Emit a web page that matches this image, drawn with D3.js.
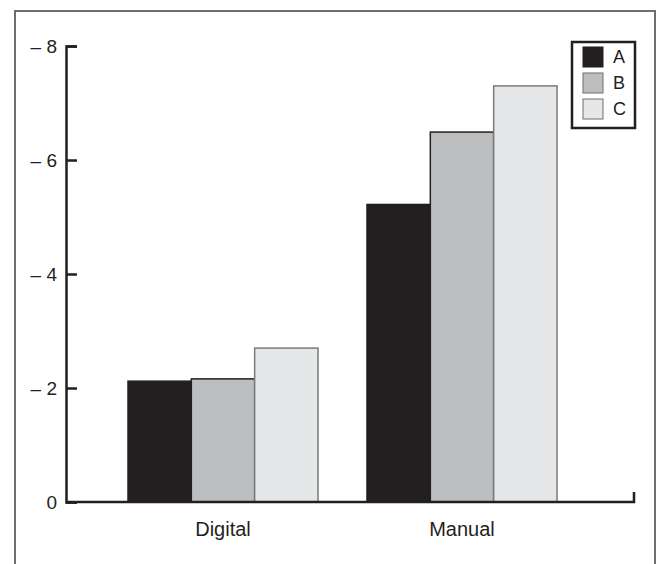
<!DOCTYPE html>
<html>
<head>
<meta charset="utf-8">
<script src="https://cdn.jsdelivr.net/npm/d3@7"></script>
<style>
  body { margin: 0; background: #fff; }
  text { font-family: "Liberation Sans", Arial, sans-serif; fill: #231f20; }
</style>
</head>
<body>
<script>
var categories = ['Digital', 'Manual'];
var seriesNames = ['A', 'B', 'C'];
var valuesA = [-2.12, -5.22];
var valuesB = [-2.16, -6.49];
var valuesC = [-2.70, -7.30];
var yTicks = [0, -2, -4, -6, -8];

var colors = { A: '#231f20', B: '#bcbec0', C: '#e6e7e8' };
var strokes = { A: '#231f20', B: '#231f20', C: '#7a7a7a' };

var width = 659,
    height = 564,
    plot = { left: 66, right: 634, top: 46, bottom: 502 };

var data = categories.map((c, i) => ({
    category: c,
    A: valuesA[i], B: valuesB[i], C: valuesC[i]
}));

var svg = d3.select('body')
    .append('svg')
    .attr('width', width)
    .attr('height', height)

// outer frame (open at the bottom)
svg.append('path')
    .attr('d', `M15,${height} V11 H655 V${height}`)
    .attr('fill', 'none')
    .attr('stroke', '#6d6e70')
    .attr('stroke-width', 2)

var yScale = d3.scaleLinear()
    .domain([0, -8])
    .range([plot.bottom, plot.top])

var xScale = d3.scaleBand()
    .domain(categories)
    .range([128, 557])
    .paddingInner(0.205)
    .paddingOuter(0)

var xSub = d3.scaleBand()
    .domain(seriesNames)
    .range([0, xScale.bandwidth()])

// bars
var groups = svg.append('g').selectAll('g')
    .data(data)
    .join('g')
    .attr('transform', d => `translate(${xScale(d.category)},0)`)

groups.selectAll('rect')
    .data(d => seriesNames.map(s => ({ key: s, value: d[s] })))
    .join('rect')
    .attr('x', d => xSub(d.key))
    .attr('width', xSub.bandwidth())
    .attr('y', d => yScale(d.value))
    .attr('height', d => yScale(0) - yScale(d.value))
    .attr('fill', d => colors[d.key])
    .attr('stroke', d => strokes[d.key])
    .attr('stroke-width', 1.5)

// y axis
var yAxis = d3.axisLeft(yScale)
    .tickValues(yTicks)
    .tickSize(-11)
    .tickPadding(9)
    .tickFormat(d => d === 0 ? '0' : '\u2013 ' + Math.abs(d))

var yg = svg.append('g')
    .attr('transform', `translate(${plot.left},0)`)
    .call(yAxis)
yg.selectAll('path, line').attr('stroke', '#231f20').attr('stroke-width', 2.5)
yg.selectAll('text')
    .style('font-family', '"Liberation Sans", Arial, sans-serif')
    .style('font-size', '19px')
    .attr('fill', '#231f20')

// x axis baseline with end tick
svg.append('path')
    .attr('d', `M${plot.left},${yScale(0)} H${plot.right} V${yScale(0) - 10}`)
    .attr('fill', 'none')
    .attr('stroke', '#231f20')
    .attr('stroke-width', 2.5)

var xAxis = d3.axisBottom(xScale).tickSize(0).tickPadding(20)
var xg = svg.append('g')
    .attr('transform', `translate(0,${yScale(0)})`)
    .call(xAxis)
xg.select('.domain').remove()
xg.selectAll('text')
    .style('font-family', '"Liberation Sans", Arial, sans-serif')
    .style('font-size', '20px')
    .attr('fill', '#231f20')

// legend
var legend = svg.append('g').attr('transform', 'translate(572,42)')
legend.append('rect')
    .attr('width', 63).attr('height', 86)
    .attr('fill', '#fff')
    .attr('stroke', '#231f20')
    .attr('stroke-width', 2.5)

var items = legend.selectAll('g.item')
    .data(seriesNames)
    .join('g')
    .attr('class', 'item')
    .attr('transform', (d, i) => `translate(11,${5 + i * 26})`)

items.append('rect')
    .attr('width', 20).attr('height', 20)
    .attr('fill', d => colors[d])
    .attr('stroke', d => d === 'A' ? '#231f20' : '#6d6e70')
    .attr('stroke-width', 1)

items.append('text')
    .attr('x', 30)
    .attr('y', 10)
    .attr('dy', '0.35em')
    .style('font-size', '18px')
    .text(d => d)
</script>
</body>
</html>
